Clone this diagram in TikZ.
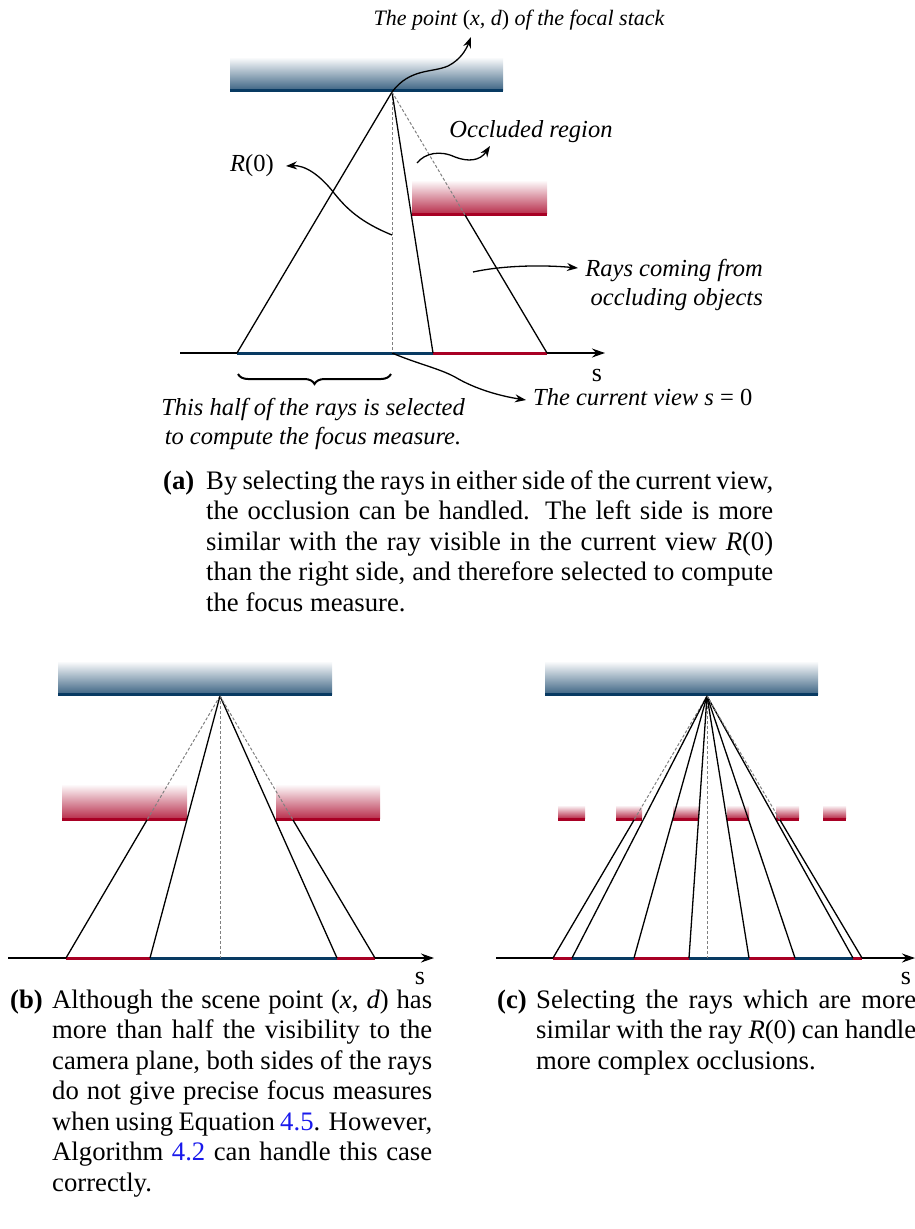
\documentclass[tikz,border=0pt]{standalone}
\usepackage{fontspec}
\setmainfont{Liberation Serif}
\usetikzlibrary{arrows.meta,decorations.pathreplacing}
\definecolor{fsblue}{RGB}{8,58,98}
\definecolor{ocred}{RGB}{168,0,36}
\definecolor{linkblue}{RGB}{25,25,235}
\begin{document}
\begin{tikzpicture}[x=1pt,y=-1pt,
  ray/.style={line width=1.3pt},
  hid/.style={gray, line width=1pt, dash pattern=on 3pt off 2pt},
  arr/.style={line width=1.3pt,-{Stealth[length=11pt,width=8pt]}},
  axisline/.style={line width=1.3pt,-{Stealth[length=13pt,width=9pt]}},
  bluebar/.style={top color=white,middle color=fsblue!22,bottom color=fsblue!78},
  redbar/.style={top color=white,middle color=ocred!22,bottom color=ocred!80},
  seg/.style={line width=3pt},
  anno/.style={font=\fontsize{24.5}{29}\selectfont\itshape, inner sep=0pt},
  captext/.style={font=\fontsize{26.7}{30.5}\selectfont, inner sep=0pt},
  slab/.style={font=\fontsize{26}{28}\selectfont, inner sep=0pt}
]
\useasboundingbox (0,0) rectangle (915,1229);
\clip (0,0) rectangle (915,1229);

% ================= (a) =================
\shade[bluebar] (230,57) rectangle (503,90);
\draw[fsblue,seg] (230,90.5) -- (503,90.5);
\shade[redbar] (412,180) rectangle (547,213);
\draw[ocred,seg] (412,214) -- (547,214);

\coordinate (Fa) at (392,92);
\coordinate (Aa0) at (180,353);
\coordinate (Aa1) at (237,353);
\coordinate (Aa2) at (392,353);
\coordinate (Aa3) at (433,353);
\coordinate (Aa4) at (547,353);
\coordinate (AaE) at (605,353);
\coordinate (Ia) at (465,215);

\draw[axisline] (Aa0) -- (AaE);
\draw[fsblue,seg] (Aa1) -- (Aa3);
\draw[ocred,seg] (Aa3) -- (Aa4);
\draw[ray] (Fa) -- (Aa1);
\draw[hid] (Fa) -- (Aa2);
\draw[ray] (Fa) -- (Aa3);
\draw[hid] (Fa) -- (Ia);
\draw[ray] (Ia) -- (Aa4);
\node[slab, anchor=base] (sa) at (597,381) {s};

% annotations
\node[anno, font=\fontsize{22}{29}\selectfont\itshape, anchor=base] (tpoint) at (519,25) {The point {\upshape(}x, d{\upshape)} of the focal stack};
\coordinate (tpa) at (471,37);
\draw[arr] (Fa) .. controls (410,68) and (432,73) .. (448,66) .. controls (460,60) and (466,50) .. (tpa);

\node[anno, anchor=base] (toccl) at (531,137) {Occluded region};
\coordinate (oc0) at (417,163);
\coordinate (oc1) at (490,146);
\draw[arr] (oc0) .. controls (425,153) and (440,150) .. (455,157) .. controls (468,162) and (480,161) .. (oc1);

\node[anno, anchor=base] (tR) at (252,171) {R{\upshape(0)}};
\coordinate (r0) at (392,235);
\coordinate (r1) at (286,166);
\draw[arr] (r0) .. controls (360,222) and (346,208) .. (334,193) .. controls (320,175) and (305,165) .. (r1);

\node[anno, anchor=east, align=right] (trays) at (763,285) {Rays coming from\\occluding objects};
\coordinate (ra0) at (473,272);
\coordinate (ra1) at (578,268);
\draw[arr] (ra0) .. controls (505,265) and (545,265) .. (ra1);

\node[anno, anchor=base west] (tcur) at (533,405) {The current view s {\upshape= 0}};
\coordinate (cu1) at (526,400);
\draw[arr] (Aa2) .. controls (418,364) and (438,368) .. (455,377) .. controls (475,389) and (500,396) .. (cu1);

\draw[decorate, decoration={brace, mirror, amplitude=10pt}, line width=2pt] (238,374) -- (391,374);
\node[anno, align=center] (thalf) at (313,424) {This half of the rays is selected\\to compute the focus measure.};

% caption (a)
\node[captext, anchor=base west] (capa) at (163,489) {\textbf{(a)}};
\node[captext, anchor=base west, text width=567pt, align=justify] (capat) at (206,489) {By selecting the rays in either side of the current view,\linebreak
the occlusion can be handled. The left side is more\linebreak
similar with the ray visible in the current view \textit{R}(0)\linebreak
than the right side, and therefore selected to compute\linebreak
the focus measure.};

% ================= (b) =================
\shade[bluebar] (58,661) rectangle (332,694);
\draw[fsblue,seg] (58,694.5) -- (332,694.5);
\shade[redbar] (62,784) rectangle (187,818);
\draw[ocred,seg] (62,819) -- (187,819);
\shade[redbar] (276,784) rectangle (380,818);
\draw[ocred,seg] (276,819) -- (380,819);

\coordinate (Fb) at (220,696);
\coordinate (Bb0) at (8,958);
\coordinate (BbE) at (434,958);
\coordinate (Bb1) at (66,958);
\coordinate (Bb2) at (150,958);
\coordinate (Bb3) at (220,958);
\coordinate (Bb4) at (337,958);
\coordinate (Bb5) at (375,958);
\coordinate (Ib1) at (147,820);
\coordinate (Ib2) at (293,820);

\draw[axisline] (Bb0) -- (BbE);
\draw[ocred,seg] (Bb1) -- (Bb2);
\draw[fsblue,seg] (Bb2) -- (Bb4);
\draw[ocred,seg] (Bb4) -- (Bb5);
\draw[hid] (Fb) -- (Ib1);
\draw[ray] (Ib1) -- (Bb1);
\draw[ray] (Fb) -- (Bb2);
\draw[hid] (Fb) -- (Bb3);
\draw[ray] (Fb) -- (Bb4);
\draw[hid] (Fb) -- (Ib2);
\draw[ray] (Ib2) -- (Bb5);
\node[slab, anchor=base] (sb) at (420,984) {s};

\node[captext, anchor=base west] (capb) at (10,1008) {\textbf{(b)}};
\node[captext, anchor=base west, text width=380pt, align=justify] (capbt) at (52,1008) {Although the scene point {(}\textit{x}, \textit{d}{)} has\linebreak
more than half the visibility to the\linebreak
camera plane, both sides of the rays\linebreak
do not give precise focus measures\linebreak
when using Equation \textcolor{linkblue}{4.5}. However,\linebreak
Algorithm \textcolor{linkblue}{4.2} can handle this case\linebreak
correctly.};

% ================= (c) =================
\shade[bluebar] (545,661) rectangle (818,694);
\draw[fsblue,seg] (545,694.5) -- (818,694.5);
\foreach \a/\b in {558/585,616/642,673/699,727/749,776/799,823/846}{
  \shade[redbar] (\a,805) rectangle (\b,818);
  \draw[ocred,seg] (\a,819) -- (\b,819);
}

\coordinate (Fc) at (707,696);
\coordinate (Cc0) at (496,958);
\coordinate (CcE) at (915,958);
\coordinate (Cc1) at (553,958);
\coordinate (Cc2) at (572,958);
\coordinate (Cc3) at (634,958);
\coordinate (Cc4) at (689,958);
\coordinate (Cc5) at (707,958);
\coordinate (Cc6) at (749,958);
\coordinate (Cc7) at (795,958);
\coordinate (Cc8) at (853,958);
\coordinate (Cc9) at (862,958);
\coordinate (Ic1) at (634,820);
\coordinate (Ic2) at (780,820);

\draw[axisline] (Cc0) -- (CcE);
\draw[ocred,seg] (Cc1) -- (Cc2);
\draw[fsblue,seg] (Cc2) -- (Cc3);
\draw[ocred,seg] (Cc3) -- (Cc4);
\draw[fsblue,seg] (Cc4) -- (Cc6);
\draw[ocred,seg] (Cc6) -- (Cc7);
\draw[fsblue,seg] (Cc7) -- (Cc8);
\draw[ocred,seg] (Cc8) -- (Cc9);
\draw[hid] (Fc) -- (Ic1);
\draw[ray] (Ic1) -- (Cc1);
\draw[ray] (Fc) -- (Cc2);
\draw[ray] (Fc) -- (Cc3);
\draw[ray] (Fc) -- (Cc4);
\draw[hid] (Fc) -- (Cc5);
\draw[ray] (Fc) -- (Cc6);
\draw[ray] (Fc) -- (Cc7);
\draw[ray] (Fc) -- (Cc8);
\draw[hid] (Fc) -- (Ic2);
\draw[ray] (Ic2) -- (Cc9);
\node[slab, anchor=base] (sc) at (906,984) {s};

\node[captext, anchor=base west] (capc) at (497,1008) {\textbf{(c)}};
\node[captext, anchor=base west, text width=380pt, align=justify] (capct) at (536,1008) {Selecting the rays which are more\linebreak
similar with the ray \textit{R}(0) can handle\linebreak
more complex occlusions.};
\end{tikzpicture}
\end{document}
